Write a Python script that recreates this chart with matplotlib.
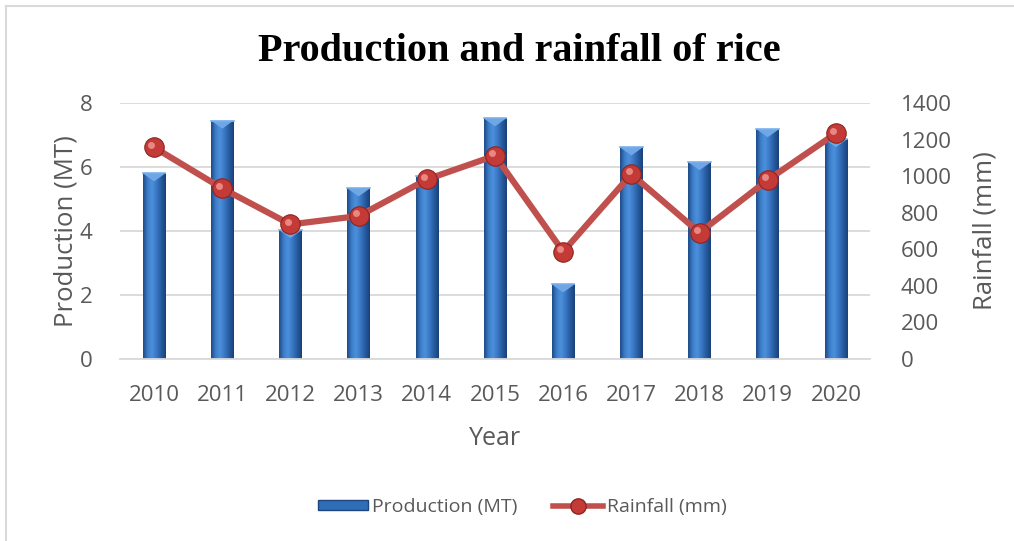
import numpy as np
import matplotlib
matplotlib.use("Agg")
import matplotlib.pyplot as plt
from matplotlib.colors import LinearSegmentedColormap
from matplotlib.lines import Line2D
from matplotlib.patches import Rectangle
from matplotlib.transforms import ScaledTranslation

# data
years = ["2010", "2011", "2012", "2013", "2014", "2015",
         "2016", "2017", "2018", "2019", "2020"]
production = [5.8, 7.45, 4.03, 5.33, 5.72, 7.52, 2.33, 6.61, 6.15, 7.18, 6.87]
rainfall = [1157, 933, 736, 782, 982, 1112, 587, 1011, 691, 979, 1234]

TEXT = "#595959"
GRID = "#D9D9D9"
plt.rcParams["font.family"] = ["Open Sans", "DejaVu Sans"]

fig = plt.figure(figsize=(10.14, 5.41), dpi=100)
ax = fig.add_axes([120 / 1014, 1 - 359 / 541, 750 / 1014, 256 / 541])
ax2 = ax.twinx()

x = np.arange(len(years))
bar_w = 0.33
bars = ax.bar(x, production, width=bar_w, color="#2F6DB5", zorder=2)

# horizontal gradient on each bar (dark edges, light centre-left)
bar_cmap = LinearSegmentedColormap.from_list(
    "barfill", ["#1D4A86", "#3D7ECB", "#4C90DC", "#3876C2", "#265B9F", "#1A4178"])
grad = np.linspace(0, 1, 64).reshape(1, -1)
for b in bars:
    bx, bw, bh = b.get_x(), b.get_width(), b.get_height()
    im = ax.imshow(grad, cmap=bar_cmap, aspect="auto", zorder=2.1,
                   extent=[bx, bx + bw, 0, bh], interpolation="bicubic")
    im.set_clip_path(b)
    # light bevel at top
    ax.fill([bx, bx + bw, bx + bw / 2], [bh, bh, bh - 0.25],
            color="#6FA7E6", zorder=2.2, lw=0)
    ax.plot([bx, bx + bw], [bh, bh], color="#7DB2EC", lw=1.2, zorder=2.3)

ax.set_xlim(-0.5, len(years) - 0.5)
ax.set_ylim(0, 8)
ax.set_yticks([0, 2, 4, 6, 8])
ax.set_xticks(x)
ax.set_xticklabels(years)
ax.yaxis.grid(True, color=GRID, lw=1.3, zorder=0)
ax.set_axisbelow(True)

ax2.set_ylim(0, 1400)
ax2.set_yticks(range(0, 1401, 200))

# rainfall line with "sphere" markers
ax2.plot(x, rainfall, color="#C0504D", lw=4.5, zorder=3, solid_capstyle="round",
         marker="o", markersize=14, markerfacecolor="#C43A36",
         markeredgecolor="#8E2420", markeredgewidth=0.8)
hl = ax2.transData + ScaledTranslation(-2 / 72, 2 / 72, fig.dpi_scale_trans)
ax2.plot(x, rainfall, ls="none", marker="o", markersize=5,
         markerfacecolor="#E98783", markeredgewidth=0, transform=hl, zorder=4)

for a in (ax, ax2):
    for s in a.spines.values():
        s.set_visible(False)
    a.tick_params(length=0, colors=TEXT, labelsize=16)
ax.spines["bottom"].set_visible(True)
ax.spines["bottom"].set_color(GRID)
ax.spines["bottom"].set_linewidth(1.3)
ax.tick_params(axis="x", pad=19)
ax.tick_params(axis="y", pad=20)
ax2.tick_params(axis="y", pad=22)

ax.set_xlabel("Year", fontsize=18, color=TEXT, labelpad=14)
ax.set_ylabel("Production (MT)", fontsize=18.5, color=TEXT, labelpad=1)
ax2.set_ylabel("Rainfall (mm)", fontsize=18.5, color=TEXT, labelpad=15)

fig.text(0.512, 0.905, "Production and rainfall of rice", ha="center", va="center",
         fontsize=29, fontweight="bold", family="Liberation Serif", color="black")

handles = [
    Rectangle((0, 0), 1, 1, facecolor="#2F6DB5", edgecolor="#1B4680"),
    Line2D([], [], color="#C0504D", lw=4, marker="o", markersize=11,
           markerfacecolor="#C43A36", markeredgecolor="#8E2420"),
]
fig.legend(handles, ["Production (MT)", "Rainfall (mm)"], loc="center",
           bbox_to_anchor=(0.515, 1 - 507 / 541), ncol=2, frameon=False,
           fontsize=14, labelcolor=TEXT, handlelength=2.6, handleheight=0.45,
           columnspacing=1.8, handletextpad=0.2)

# thin outline along the top and left of the chart area
fig.add_artist(Line2D([6 / 1014, 6 / 1014], [1 - 6 / 541, 0], color=GRID, lw=1.5))
fig.add_artist(Line2D([6 / 1014, 1], [1 - 6 / 541, 1 - 6 / 541], color=GRID, lw=1.5))

fig.savefig("out.png", dpi=100)
